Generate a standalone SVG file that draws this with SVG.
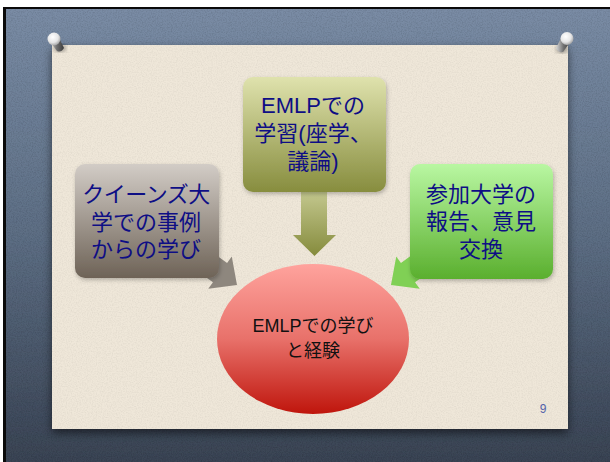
<svg xmlns="http://www.w3.org/2000/svg" width="610" height="462" viewBox="0 0 610 462">
  <defs>
    <linearGradient id="bg" x1="0" y1="0" x2="0" y2="1">
      <stop offset="0" stop-color="#7a8ca5"/>
      <stop offset="0.5" stop-color="#5d6e84"/>
      <stop offset="1" stop-color="#3a4454"/>
    </linearGradient>
    <linearGradient id="gTop" x1="0" y1="0" x2="0" y2="1">
      <stop offset="0" stop-color="#dfe2ad"/>
      <stop offset="1" stop-color="#878d3e"/>
    </linearGradient>
    <linearGradient id="gTopArrow" gradientUnits="userSpaceOnUse" x1="0" y1="192" x2="0" y2="256">
      <stop offset="0" stop-color="#c3c78e"/>
      <stop offset="1" stop-color="#858b3c"/>
    </linearGradient>
    <linearGradient id="gLeft" x1="0" y1="0" x2="0" y2="1">
      <stop offset="0" stop-color="#d2ccc6"/>
      <stop offset="1" stop-color="#6e6357"/>
    </linearGradient>
    <linearGradient id="gLeftArrow" gradientUnits="userSpaceOnUse" x1="0" y1="240" x2="0" y2="292">
      <stop offset="0" stop-color="#8e877e"/>
      <stop offset="1" stop-color="#6a6157"/>
    </linearGradient>
    <linearGradient id="gRight" x1="0" y1="0" x2="0" y2="1">
      <stop offset="0" stop-color="#b9f7a2"/>
      <stop offset="1" stop-color="#5aaf2e"/>
    </linearGradient>
    <linearGradient id="gRightArrow" gradientUnits="userSpaceOnUse" x1="0" y1="240" x2="0" y2="292">
      <stop offset="0" stop-color="#80d055"/>
      <stop offset="1" stop-color="#5ab232"/>
    </linearGradient>
    <linearGradient id="gCircle" x1="0" y1="0" x2="0" y2="1">
      <stop offset="0" stop-color="#ffa39d"/>
      <stop offset="0.5" stop-color="#e8716a"/>
      <stop offset="1" stop-color="#bf150c"/>
    </linearGradient>
    <radialGradient id="pinHead" cx="0.4" cy="0.35" r="0.7">
      <stop offset="0" stop-color="#ffffff"/>
      <stop offset="0.6" stop-color="#e6e6e6"/>
      <stop offset="1" stop-color="#9a9a9a"/>
    </radialGradient>
    <linearGradient id="pinBody" x1="0" y1="0" x2="1" y2="0">
      <stop offset="0" stop-color="#d8d8d8"/>
      <stop offset="0.5" stop-color="#707070"/>
      <stop offset="1" stop-color="#3a3a3a"/>
    </linearGradient>
    <filter id="noise" x="0" y="0" width="100%" height="100%">
      <feTurbulence type="fractalNoise" baseFrequency="0.8" numOctaves="2" seed="3" result="n"/>
      <feColorMatrix in="n" type="matrix" values="0 0 0 0 0  0 0 0 0 0  0 0 0 0 0  0.5 0 0 0 -0.2" result="a"/>
      <feComposite in="a" in2="SourceGraphic" operator="in" result="m"/>
      <feMerge><feMergeNode in="SourceGraphic"/><feMergeNode in="m"/></feMerge>
    </filter>
    <filter id="paperShadow" x="-10%" y="-10%" width="120%" height="125%">
      <feDropShadow dx="0" dy="4" stdDeviation="5" flood-color="#000" flood-opacity="0.55"/>
    </filter>
    <filter id="soft" x="-10%" y="-10%" width="125%" height="130%">
      <feDropShadow dx="1" dy="2" stdDeviation="2" flood-color="#000" flood-opacity="0.25"/>
    </filter>
    <filter id="blur2"><feGaussianBlur stdDeviation="2"/></filter>
  </defs>
  <style>
    .lbl { font-family: 'Liberation Sans', 'Noto Sans CJK JP', sans-serif; font-size: 22px; fill: #0e0e85; text-anchor: middle; }
    .lblc { font-family: 'Liberation Sans', 'Noto Sans CJK JP', sans-serif; font-size: 18px; fill: #111111; text-anchor: middle; }
    .num { font-family: 'Liberation Sans', 'Noto Sans', sans-serif; font-size: 12px; fill: #5262aa; text-anchor: middle; }
  </style>

  <g id="background">
    <rect x="0" y="0" width="610" height="462" fill="#ffffff"/>
    <rect x="3" y="7" width="607" height="455" fill="#0a0a0a"/>
    <rect x="6" y="9" width="604" height="453" fill="url(#bg)" filter="url(#noise)"/>
  </g>

  <g id="paper">
    <rect x="52" y="45" width="516" height="384" fill="#efe7d9" filter="url(#paperShadow)"/>
    <rect x="52" y="45" width="516" height="384" fill="#efe7d9" filter="url(#noise)" opacity="0.45"/>
  </g>

  <g id="pins">
    <g id="pin-left">
      <ellipse cx="60" cy="48" rx="6" ry="4" fill="#000" opacity="0.35" filter="url(#blur2)"/>
      <path d="M49.5,41 L57,51 Q61,53 64,48 L58.5,37 Z" fill="url(#pinBody)"/>
      <circle cx="54" cy="39" r="6.5" fill="url(#pinHead)"/>
    </g>
    <g id="pin-right">
      <ellipse cx="562" cy="49" rx="6" ry="4" fill="#000" opacity="0.35" filter="url(#blur2)"/>
      <path d="M562,36 L556,48 Q558,53 563,52 L571,41 Z" fill="url(#pinBody)"/>
      <circle cx="567" cy="38.5" r="6.5" fill="url(#pinHead)"/>
    </g>
  </g>

  <g id="connectors">
    <path id="arrow-top" d="M301,190 L327,190 L327,235 L336,235 L314.5,256 L293,235 L301,235 Z" fill="url(#gTopArrow)"/>
    <path id="arrow-left" d="M0,0 L-21,20 L-21,12 L-110,12 L-110,-12 L-21,-12 L-21,-20 Z" transform="translate(237,285) rotate(36)" fill="url(#gLeftArrow)"/>
    <path id="arrow-right" d="M0,0 L-21,20 L-21,12 L-110,12 L-110,-12 L-21,-12 L-21,-20 Z" transform="translate(391,285) rotate(144)" fill="url(#gRightArrow)"/>
  </g>

  <g id="node-top">
    <rect x="243" y="77" width="143" height="115" rx="10" fill="url(#gTop)" filter="url(#soft)"/>
    <text class="lbl" x="313" y="113">EMLPでの</text>
    <text class="lbl" x="313" y="141">学習(座学、</text>
    <text class="lbl" x="313" y="169">議論)</text>
  </g>

  <g id="node-left">
    <rect x="75" y="164" width="144" height="114" rx="10" fill="url(#gLeft)" filter="url(#soft)"/>
    <text class="lbl" x="146" y="202" letter-spacing="-0.5">クイーンズ大</text>
    <text class="lbl" x="146" y="230">学での事例</text>
    <text class="lbl" x="146" y="257">からの学び</text>
  </g>

  <g id="node-right">
    <rect x="410" y="164" width="143" height="115" rx="10" fill="url(#gRight)" filter="url(#soft)"/>
    <text class="lbl" x="481" y="202">参加大学の</text>
    <text class="lbl" x="481" y="229">報告、意見</text>
    <text class="lbl" x="481" y="257">交換</text>
  </g>

  <g id="node-center">
    <ellipse cx="313" cy="339" rx="96" ry="75" fill="url(#gCircle)"/>
    <text class="lblc" x="313" y="332">EMLPでの学び</text>
    <text class="lblc" x="313" y="357">と経験</text>
  </g>

  <text class="num" x="543" y="413">9</text>
</svg>
